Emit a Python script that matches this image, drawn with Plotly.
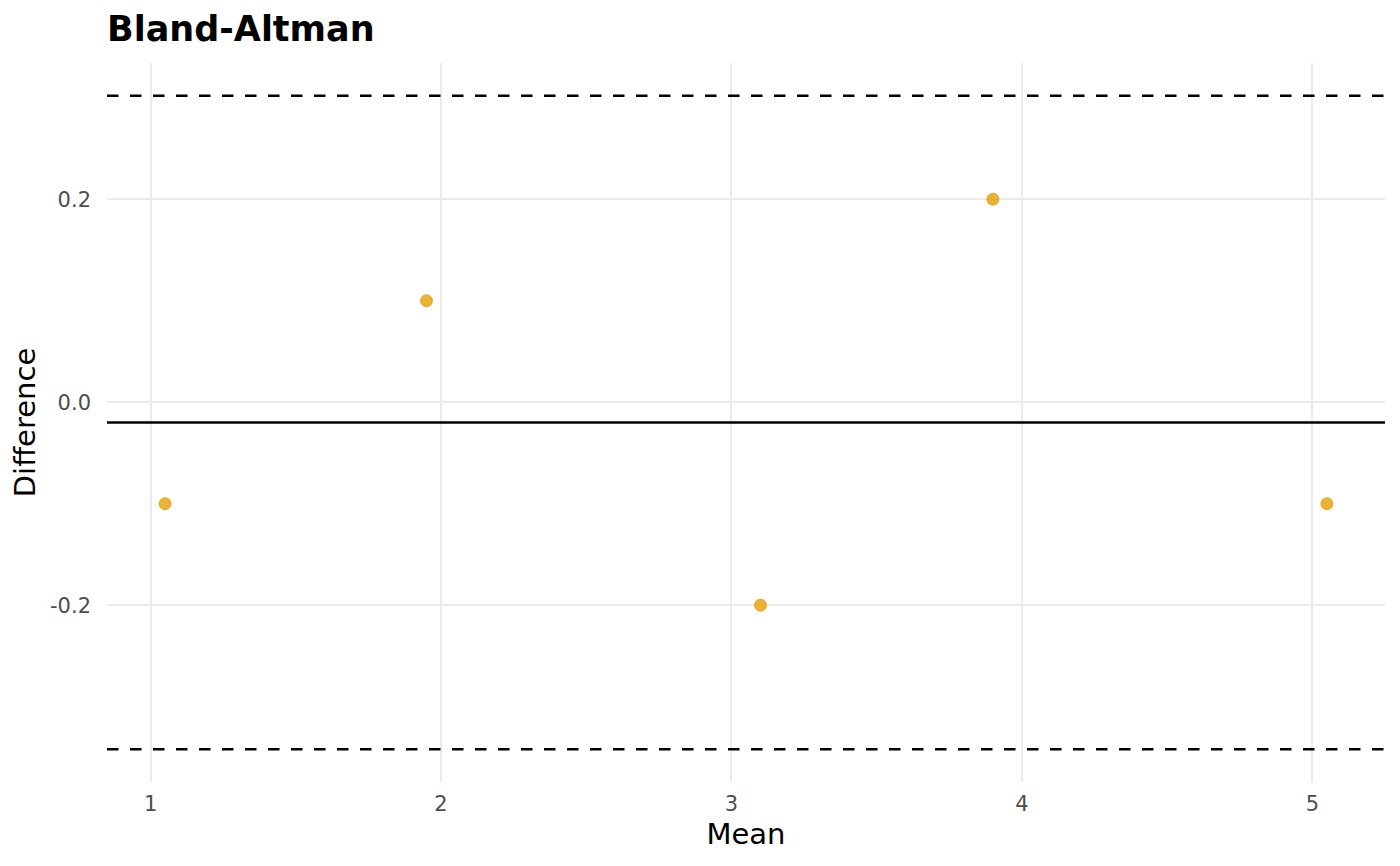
#!/usr/bin/env python3
"""Bland-Altman agreement plot"""

import plotly.graph_objects as go

# data
mean_vals = [1.05, 1.95, 3.1, 3.9, 5.05]
diff_vals = [-0.1, 0.1, -0.2, 0.2, -0.1]

bias = -0.02
loa_upper = 0.302
loa_lower = -0.342

x_ticks = [1, 2, 3, 4, 5]
y_ticks = [-0.2, 0.0, 0.2]
y_tick_labels = ["-0.2", "0.0", "0.2"]

FONT = "DejaVu Sans"
W, H = 1400, 866
PAGE_OFFSET = 8  # default body margin of the html page

fig = go.Figure()

fig.add_trace(go.Scatter(
    x=mean_vals,
    y=diff_vals,
    mode="markers",
    marker=dict(size=12, color="rgba(230,159,0,0.8)",
                line=dict(color="rgba(220,150,0,0.9)", width=0.8)),
    showlegend=False,
    hoverinfo="x+y",
))

# bias and limits of agreement
for val, dash in [(bias, "solid"), (loa_upper, "11.5px,11.5px"), (loa_lower, "11.5px,11.5px")]:
    fig.add_shape(
        type="line", xref="paper", yref="y",
        x0=0, x1=1, y0=val, y1=val,
        line=dict(color="black", width=2.6, dash=dash),
    )

fig.update_layout(
    width=W,
    height=H,
    margin=dict(l=107 - PAGE_OFFSET, r=15 + PAGE_OFFSET,
                t=63 - PAGE_OFFSET, b=84 + PAGE_OFFSET),
    paper_bgcolor="white",
    plot_bgcolor="white",
    font=dict(family=FONT, color="black"),
    title=dict(
        text="<b>Bland-Altman</b>",
        x=(107 - PAGE_OFFSET) / W, xref="container", xanchor="left",
        y=1 - (29 - PAGE_OFFSET) / H, yref="container", yanchor="middle",
        font=dict(family=FONT, size=35, color="black"),
    ),
    xaxis=dict(
        range=[0.85, 5.25],
        tickvals=x_ticks,
        showgrid=True, gridcolor="#EBEBEB", gridwidth=2.4,
        zeroline=False, showline=False, ticks="",
        ticklabelstandoff=7,
        tickfont=dict(family=FONT, size=21, color="#4D4D4D"),
        title=dict(text="Mean", standoff=8,
                   font=dict(family=FONT, size=29, color="black")),
    ),
    yaxis=dict(
        range=[-0.3742, 0.3342],
        tickvals=y_ticks,
        ticktext=y_tick_labels,
        showgrid=True, gridcolor="#EBEBEB", gridwidth=2.4,
        zeroline=False, showline=False, ticks="",
        ticklabelstandoff=15,
        tickfont=dict(family=FONT, size=21, color="#4D4D4D"),
        title=dict(text="Difference", standoff=5,
                   font=dict(family=FONT, size=29, color="black")),
    ),
)

fig.write_html("out.html")
